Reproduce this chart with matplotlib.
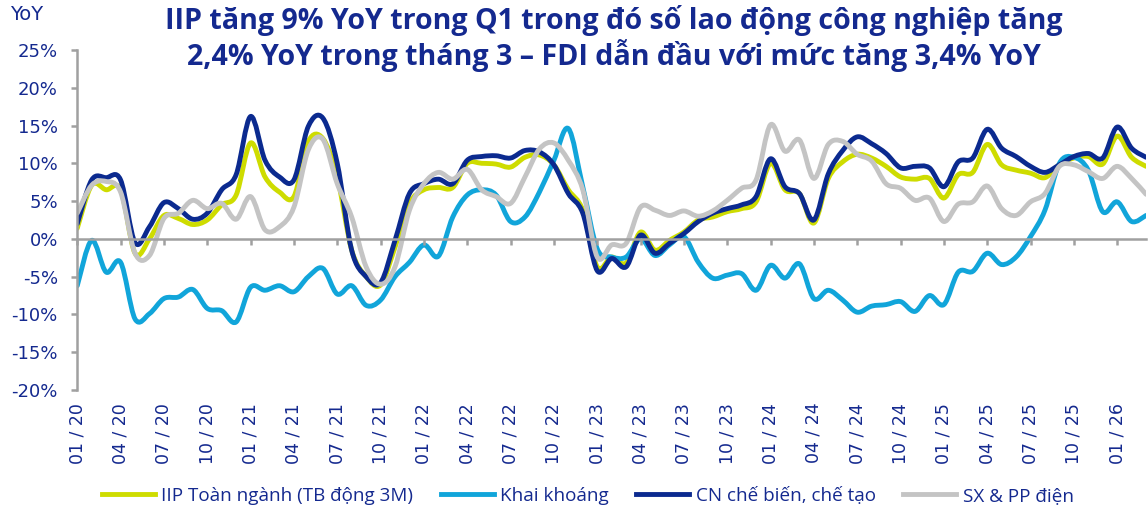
import matplotlib
matplotlib.use("Agg")
import matplotlib.pyplot as plt
from matplotlib.path import Path
from matplotlib.patches import PathPatch
from matplotlib.lines import Line2D

# monthly YoY growth (%), 01/2020 .. 03/2026
months = [f"{m:02d} / {y % 100:02d}" for y in range(2020, 2027) for m in range(1, 13)][:75]

iip = [1.4, 7.1, 6.5, 6.5, -1.9, 0.0, 3.1, 2.7, 1.9, 2.5, 4.5, 5.8,
       12.7, 8.2, 6.2, 5.6, 12.9, 13.3, 8.2, -1.5, -5.0, -6.1, -1.1, 4.7,
       6.5, 6.8, 6.8, 10.0, 10.0, 9.9, 9.5, 10.8, 11.1, 9.8, 6.5, 3.8,
       -3.7, -2.4, -3.2, 0.9, -1.5, -0.2, 0.9, 2.5, 2.9, 3.6, 4.0, 4.9,
       10.0, 6.5, 6.0, 2.1, 8.0, 10.2, 11.2, 10.7, 9.6, 8.2, 7.9, 8.0,
       5.4, 8.5, 8.8, 12.5, 9.8, 9.1, 8.7, 8.1, 9.8, 10.7, 10.9, 9.9,
       13.6, 10.8, 9.6]

mining = [-6.2, -0.2, -4.4, -3.1, -10.6, -9.9, -7.9, -7.7, -6.7, -9.2, -9.5, -11.0,
          -6.4, -6.8, -6.2, -7.0, -5.0, -3.9, -7.3, -6.2, -8.8, -8.1, -5.0, -3.1,
          -0.8, -2.3, 2.9, 5.8, 6.5, 5.8, 2.3, 2.9, 6.2, 10.4, 14.6, 6.9,
          -1.3, -2.4, -2.4, 0.0, -2.2, -0.8, 0.3, -3.1, -5.2, -4.8, -4.6, -6.8,
          -3.5, -5.2, -3.3, -7.9, -6.8, -8.1, -9.7, -8.9, -8.7, -8.3, -9.6, -7.5,
          -8.7, -4.4, -4.3, -1.9, -3.4, -2.4, 0.3, 3.8, 10.0, 10.8, 9.1, 3.6,
          4.9, 2.3, 3.1]

manufacturing = [2.0, 7.8, 8.1, 7.8, -0.5, 1.6, 4.8, 4.0, 2.6, 3.4, 6.5, 8.5,
                 16.2, 10.4, 8.2, 7.8, 14.9, 16.0, 10.0, -1.5, -5.0, -5.8, -0.2, 6.0,
                 7.3, 7.9, 7.3, 10.4, 10.9, 11.0, 10.7, 11.7, 11.5, 9.8, 6.0, 3.4,
                 -4.2, -2.6, -3.7, 0.5, -1.9, -0.6, 0.7, 2.3, 3.4, 4.0, 4.5, 5.6,
                 10.6, 6.9, 6.0, 2.5, 8.6, 11.7, 13.5, 12.6, 11.3, 9.4, 9.6, 9.4,
                 6.9, 10.2, 10.7, 14.5, 12.0, 10.9, 9.6, 8.8, 9.8, 10.9, 11.3, 10.7,
                 14.8, 12.0, 10.8]

power = [3.4, 7.1, 7.6, 6.2, -1.9, -2.2, 2.7, 3.4, 5.1, 4.0, 4.7, 2.6,
         5.6, 1.2, 1.6, 4.2, 11.8, 13.2, 7.3, 2.9, -3.7, -6.0, -3.7, 3.8,
         7.3, 8.8, 7.9, 9.2, 6.5, 5.6, 4.7, 8.2, 11.9, 12.7, 10.4, 6.5,
         -2.4, -0.8, -0.6, 4.2, 3.8, 3.1, 3.7, 3.0, 3.7, 5.1, 6.7, 7.8,
         15.1, 11.6, 13.1, 8.0, 12.5, 12.9, 11.2, 10.3, 7.3, 6.7, 5.1, 5.4,
         2.3, 4.6, 4.9, 7.0, 4.0, 3.1, 4.9, 6.0, 9.6, 9.8, 8.9, 8.0,
         9.6, 8.0, 5.9]

series_names = ["IIP Toàn ngành (TB động 3M)", "Khai khoáng",
                "CN chế biến, chế tạo", "SX & PP điện"]
series_colors = ["#CEDC00", "#11A5DA", "#0B2A8F", "#C4C4C4"]

y_ticks = [-20, -15, -10, -5, 0, 5, 10, 15, 20, 25]

TEXT = "#14298F"
AXIS = "#A0A0A0"
LW = 3.5
plt.rcParams["font.family"] = ["DejaVu Sans"]


def smooth_path(xs, ys):
    # Excel-style "smoothed line": cubic Bezier through every data point
    n = len(xs)
    verts = [(xs[0], ys[0])]
    codes = [Path.MOVETO]
    for i in range(n - 1):
        x0, y0 = xs[max(i - 1, 0)], ys[max(i - 1, 0)]
        x1, y1 = xs[i], ys[i]
        x2, y2 = xs[i + 1], ys[i + 1]
        x3, y3 = xs[min(i + 2, n - 1)], ys[min(i + 2, n - 1)]
        verts += [(x1 + (x2 - x0) / 6, y1 + (y2 - y0) / 6),
                  (x2 - (x3 - x1) / 6, y2 - (y3 - y1) / 6),
                  (x2, y2)]
        codes += [Path.CURVE4] * 3
    return Path(verts, codes)


fig = plt.figure(figsize=(11.48, 5.09), dpi=100)
ax = fig.add_axes([0.0673, 0.2338, 0.9310, 0.668])

x = list(range(len(months)))
handles = []
for vals, name, col in zip([iip, mining, manufacturing, power], series_names, series_colors):
    ax.add_patch(PathPatch(smooth_path(x, vals), fill=False, edgecolor=col, lw=LW,
                           joinstyle="round", capstyle="round"))
    handles.append(Line2D([], [], color=col, lw=LW, label=name))

ax.set_xlim(0, len(months) - 1)
ax.set_ylim(-20, 25)
ax.set_yticks(y_ticks)
ax.set_yticklabels([f"{v}%" for v in y_ticks])
ax.set_xticks(x[::3])
ax.set_xticklabels(months[::3])

for s in ["top", "right"]:
    ax.spines[s].set_visible(False)
ax.spines["bottom"].set_position(("data", 0))
for s in ["bottom", "left"]:
    ax.spines[s].set_color(AXIS)
    ax.spines[s].set_linewidth(1.8)
ax.tick_params(axis="x", direction="out", length=4, width=1.8, color=AXIS,
               labelcolor=TEXT, labelsize=12.5, labelrotation=90, pad=114)
ax.tick_params(axis="y", direction="out", length=4, width=1.8, color=AXIS,
               labelcolor=TEXT, labelsize=13, pad=10)

fig.text(0.009, 0.972, "YoY", color=TEXT, fontsize=14, va="center", ha="left")
title_font = ["Open Sans", "DejaVu Sans"]
fig.text(0.535, 1 - 20 / 509, "IIP tăng 9% YoY trong Q1 trong đó số lao động công nghiệp tăng",
         color=TEXT, fontsize=20.6, fontweight="bold", ha="center", va="center",
         family=title_font)
fig.text(0.535, 1 - 56 / 509, "2,4% YoY trong tháng 3 – FDI dẫn đầu với mức tăng 3,4% YoY",
         color=TEXT, fontsize=20.6, fontweight="bold", ha="center", va="center",
         family=title_font)

fig.legend(handles=handles, loc="center", bbox_to_anchor=(0.512, 1 - 496 / 509), ncol=4,
           frameon=False, prop={"family": ["Open Sans", "DejaVu Sans"], "size": 13.6},
           labelcolor=TEXT, handlelength=2.8, handletextpad=0.35, columnspacing=1.45)

fig.savefig("out.png", dpi=100)
